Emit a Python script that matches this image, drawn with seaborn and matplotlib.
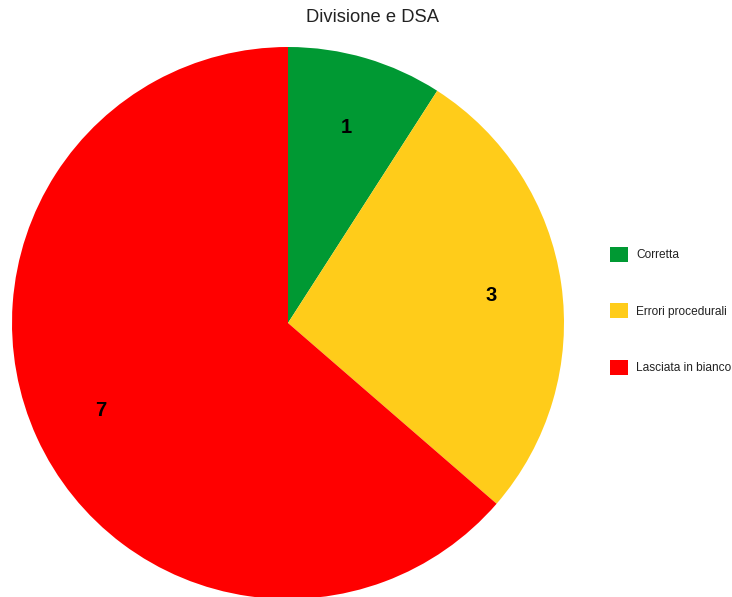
import matplotlib
matplotlib.use("Agg")
import matplotlib.pyplot as plt
import matplotlib.transforms as mtransforms
import seaborn as sns
from matplotlib.patches import Patch

# Results of the division exercise
categories = ["Corretta", "Errori procedurali", "Lasciata in bianco"]
counts = [1, 3, 7]
colors = ["#009933", "#FFCC1A", "#FF0000"]
title = "Divisione e DSA"

sns.set_theme(style="white")
plt.rcParams["font.family"] = ["Liberation Sans", "DejaVu Sans"]

W, H, DPI = 732, 597, 100
fig = plt.figure(figsize=(W / DPI, H / DPI), dpi=DPI)
fig.patch.set_facecolor("white")

# Pie centre (288, 323) px, radius 276 px
cx, cy, r = 288, 323, 276
ax = fig.add_axes([(cx - r) / W, (H - cy - r) / H, 2 * r / W, 2 * r / H])

wedges, texts = ax.pie(
    counts,
    colors=colors,
    startangle=90,
    counterclock=False,
    radius=1,
    labels=[str(c) for c in counts],
    labeldistance=0.745,
    wedgeprops=dict(linewidth=0),
    textprops=dict(fontsize=14.5, fontweight="bold", color="black",
                   ha="center", va="center"),
)
ax.set_xlim(-1, 1)
ax.set_ylim(-1, 1)
ax.set_aspect("equal")
ax.axis("off")
for w in wedges:
    w.set_clip_on(False)
# nudge the value labels slightly down so the digits sit centred
shift = mtransforms.ScaledTranslation(0, -2 / DPI, fig.dpi_scale_trans)
for t in texts:
    t.set_transform(t.get_transform() + shift)

fig.text(372 / W, 1 - 18 / H, title, ha="center", va="center",
         fontsize=13.2, color="#222222")

handles = [Patch(facecolor=c, edgecolor="none") for c in colors]
fig.legend(
    handles, categories,
    loc="upper left",
    bbox_to_anchor=(610 / W, 1 - 247 / H),
    bbox_transform=fig.transFigure,
    frameon=False,
    fontsize=8.6,
    handlelength=1.51,
    handleheight=1.51,
    handletextpad=0.67,
    labelspacing=3.5,
    borderpad=0,
    borderaxespad=0,
    labelcolor="#222222",
)

fig.savefig("out.png", dpi=DPI, facecolor="white")
